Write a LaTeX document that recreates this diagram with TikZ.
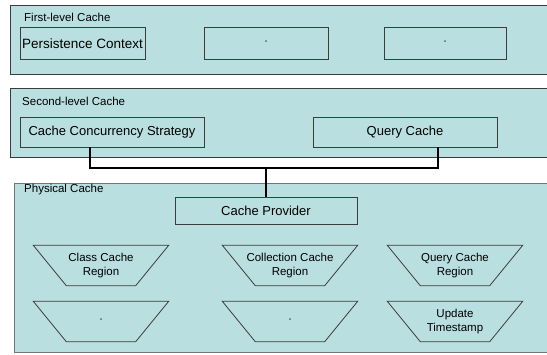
\documentclass[tikz,border=0pt]{standalone}
\usepackage{fontspec}
\setmainfont{Liberation Sans}
\definecolor{cachebg}{HTML}{B9DFE1}
\definecolor{edge}{HTML}{3C3C3C}
\tikzset{
	panel/.style={draw=edge, fill=cachebg, line width=1pt, anchor=north west, inner sep=0pt},
	box/.style={draw=edge, line width=0.9pt, inner sep=0pt, font=\fontsize{13}{15}\selectfont},
	region/.style={minimum width=135pt, minimum height=40pt, align=center, inner sep=0pt,
		font=\fontsize{11.5}{14.5}\selectfont},
	regionedge/.style={draw=edge, line width=0.8pt, line join=miter},
	title/.style={anchor=west, inner sep=0pt, font=\fontsize{11.5}{13}\selectfont},
	conn/.style={line width=2pt, black}
}
\newcommand{\quotemark}{\fontsize{6.5}{7}\selectfont ''}
\begin{document}
\begin{tikzpicture}[x=1pt,y=-1pt]
	\useasboundingbox (0,0) rectangle (547,354);
	%Khung 1
	\node[panel, minimum width=560pt, minimum height=69pt] (first) at (10,5) {};
	\node[title] (firsttitle) at (24,17) {First-level Cache};
	\node[box, minimum width=125pt, minimum height=32pt, font=\fontsize{13.5}{15}\selectfont] (pc) at (82.5,43.5) {Persistence Context};
	\node[box, minimum width=124pt, minimum height=32pt] (pc2) at (266,43.5) {\quotemark};
	\node[box, minimum width=122pt, minimum height=32pt] (pc3) at (445,43.5) {\quotemark};
	%Khung 2
	\node[panel, minimum width=560pt, minimum height=69pt] (second) at (10,88) {};
	\node[title] (secondtitle) at (22,101) {Second-level Cache};
	\node[box, minimum width=184pt, minimum height=30pt] (ccs) at (112,132) {Cache Concurrency Strategy};
	\node[box, minimum width=184pt, minimum height=30pt] (qc) at (405,132) {Query Cache};
	%Khung 3
	\node[panel, draw=edge!70, minimum width=560pt, minimum height=169pt] (phys) at (14,183) {};
	\node[title] (physitle) at (24,190) {Physical Cache};
	\node[box, minimum width=182pt, minimum height=27pt] (provider) at (266,210.5) {Cache Provider};
	%Vung
	\node[region] (classreg) at (101,265.5) {Class Cache\\Region};
	\node[region] (collreg) at (290,265.5) {Collection Cache\\Region};
	\node[region] (queryreg) at (455,265.5) {Query Cache\\Region};
	\node[region] (classmore) at (101,321.5) {\quotemark};
	\node[region] (collmore) at (290,321.5) {\quotemark};
	\node[region] (stamp) at (455,321.5) {Update\\Timestamp};
	\foreach \r in {classreg,collreg,queryreg,classmore,collmore,stamp}
		\draw[regionedge] (\r.north west) -- (\r.north east) -- ([xshift=-33pt]\r.south east)
			-- ([xshift=33pt]\r.south west) -- cycle;
	%Duong noi
	\coordinate (bus) at (0,168);
	\draw[conn] ([xshift=-22pt]ccs.south) |- (provider.north |- bus) -| ([xshift=33pt]qc.south);
	\draw[conn] (provider.north |- bus) -- (provider.north);
\end{tikzpicture}
\end{document}
